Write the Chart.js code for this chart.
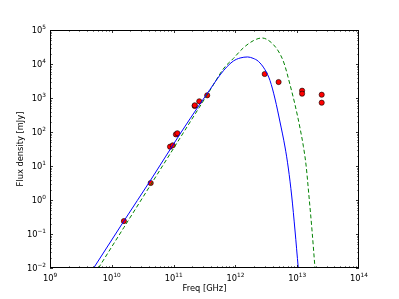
<!DOCTYPE html>
<html>
<head>
<meta charset="utf-8">
<script src="https://cdn.jsdelivr.net/npm/chart.js@4.4.1/dist/chart.umd.min.js"></script>
<style>
  html, body { margin: 0; padding: 0; background: #fff; }
</style>
</head>
<body>
<canvas id="sed" width="399" height="299"></canvas>
<script>
// measured photometry (Hz, mJy)
const obsFreq = [1.57e10, 4.26e10, 8.75e10, 9.67e10, 1.09e11, 1.15e11, 2.19e11, 2.2e11, 2.6e11, 3.5e11,
                 2.98e12, 5.0e12, 1.2e13, 1.2e13, 2.49e13, 2.49e13];
const obsFlux = [0.24, 3.16, 37, 40.6, 85, 92, 582, 610, 800, 1200,
                 5080, 2950, 1640, 1340, 1250, 728];

// solid blue model
const fitFreq = [5.09e9, 1.57e10, 4.26e10, 1.27e11, 2.67e11, 3.88e11, 5.64e11, 7.23e11, 9.25e11, 1.19e12,
                 1.58e12, 1.93e12, 2.35e12, 3.01e12, 3.63e12, 4.38e12, 5.27e12, 6.35e12, 7.18e12, 8.15e12,
                 9.2e12, 1.04e13];
const fitFlux = [0.01, 0.241, 3.87, 87.3, 667, 1780, 4750, 8160, 12200, 15000,
                 16100, 14700, 12000, 6790, 3270, 935, 197, 36.2, 8.73, 1.31,
                 0.131, 0.01];

// dashed green model
const altFreq = [6.09e9, 1.57e10, 4.26e10, 1.27e11, 3.88e11, 6.55e11, 9.25e11, 1.34e12, 1.95e12, 2.69e12,
                 3.63e12, 4.94e12, 6.11e12, 7.64e12, 9.2e12, 1.11e13, 1.26e13, 1.39e13, 1.55e13, 1.74e13,
                 1.94e13];
const altFlux = [0.01, 0.156, 2.8, 66.2, 1680, 7620, 14500, 29600, 48500, 58200,
                 45900, 24100, 10700, 2490, 644, 131, 37.5, 10.7, 1.31, 0.122,
                 0.01];

const xTickExp = [9, 10, 11, 12, 13, 14];
const yTickExp = [-2, -1, 0, 1, 2, 3, 4, 5];

const FONT = '"DejaVu Sans", sans-serif';

function pairs(xs, ys) {
  return xs.map((x, i) => ({ x: x, y: ys[i] }));
}

// matplotlib-like frame, inward ticks and 10^n labels
const axesDecor = {
  id: 'axesDecor',
  afterDraw(chart) {
    const ctx = chart.ctx;
    const a = chart.chartArea;
    const xs = chart.scales.x;
    const ys = chart.scales.y;
    ctx.save();
    ctx.strokeStyle = '#000';
    ctx.lineWidth = 1;
    ctx.strokeRect(a.left + 0.5, a.top + 0.5, a.right - a.left - 1, a.bottom - a.top - 1);

    ctx.lineWidth = 0.8;
    ctx.beginPath();
    for (let e = xTickExp[0]; e < xTickExp[xTickExp.length - 1]; e++) {
      for (let m = 1; m < 10; m++) {
        const px = Math.round(xs.getPixelForValue(m * Math.pow(10, e))) + 0.5;
        const len = m === 1 ? 3 : 1.6;
        ctx.moveTo(px, a.bottom); ctx.lineTo(px, a.bottom - len);
        ctx.moveTo(px, a.top); ctx.lineTo(px, a.top + len);
      }
    }
    for (let e = yTickExp[0]; e < yTickExp[yTickExp.length - 1]; e++) {
      for (let m = 1; m < 10; m++) {
        const py = Math.round(ys.getPixelForValue(m * Math.pow(10, e))) + 0.5;
        const len = m === 1 ? 3 : 1.6;
        ctx.moveTo(a.left, py); ctx.lineTo(a.left + len, py);
        ctx.moveTo(a.right, py); ctx.lineTo(a.right - len, py);
      }
    }
    ctx.stroke();

    ctx.fillStyle = '#000';
    ctx.textBaseline = 'alphabetic';
    xTickExp.forEach(e => {
      const px = xs.getPixelForValue(Math.pow(10, e));
      ctx.font = '8.3px ' + FONT;
      const w1 = ctx.measureText('10').width;
      ctx.font = '5.8px ' + FONT;
      const w2 = ctx.measureText(String(e)).width;
      const x0 = px - (w1 + w2) / 2;
      ctx.font = '8.3px ' + FONT;
      ctx.textAlign = 'left';
      ctx.fillText('10', x0, a.bottom + 13);
      ctx.font = '5.8px ' + FONT;
      ctx.fillText(String(e), x0 + w1, a.bottom + 9);
    });
    yTickExp.forEach(e => {
      const py = ys.getPixelForValue(Math.pow(10, e));
      const lab = e < 0 ? '\u2212' + Math.abs(e) : String(e);
      ctx.font = '5.8px ' + FONT;
      const w2 = ctx.measureText(lab).width;
      ctx.font = '8.3px ' + FONT;
      const w1 = ctx.measureText('10').width;
      const xr = a.left - 4;
      ctx.textAlign = 'left';
      ctx.fillText('10', xr - w1 - w2, py + 3);
      ctx.font = '5.8px ' + FONT;
      ctx.fillText(lab, xr - w2, py - 1);
    });

    ctx.font = '8.3px ' + FONT;
    ctx.textAlign = 'center';
    ctx.fillText('Freq [GHz]', (a.left + a.right) / 2, a.bottom + 23);
    ctx.translate(23, (a.top + a.bottom) / 2);
    ctx.rotate(-Math.PI / 2);
    ctx.fillText('Flux density [mJy]', 0, 0);
    ctx.restore();
  }
};

new Chart(document.getElementById('sed').getContext('2d'), {
  type: 'line',
  data: {
    datasets: [
      {
        label: 'model',
        data: pairs(fitFreq, fitFlux),
        borderColor: '#0000ff',
        borderWidth: 1,
        pointRadius: 0,
        cubicInterpolationMode: 'monotone',
        fill: false,
      },
      {
        label: 'model 2',
        data: pairs(altFreq, altFlux),
        borderColor: '#008000',
        borderWidth: 1,
        borderDash: [4, 2.5],
        pointRadius: 0,
        cubicInterpolationMode: 'monotone',
        fill: false,
      },
      {
        label: 'data',
        data: pairs(obsFreq, obsFlux),
        showLine: false,
        pointStyle: 'circle',
        pointRadius: 2.6,
        pointBackgroundColor: '#ff0000',
        pointBorderColor: '#000',
        pointBorderWidth: 0.6,
      },
    ],
  },
  options: {
    responsive: false,
    animation: false,
    layout: { padding: { left: 0, top: 30, right: 40, bottom: 0 } },
    plugins: { legend: { display: false }, tooltip: { enabled: false } },
    scales: {
      x: {
        type: 'logarithmic',
        min: 1e9,
        max: 1e14,
        ticks: { display: false },
        grid: { display: false },
        border: { display: false },
        afterFit: s => { s.height = 31; },
      },
      y: {
        type: 'logarithmic',
        min: 1e-2,
        max: 1e5,
        ticks: { display: false },
        grid: { display: false },
        border: { display: false },
        afterFit: s => { s.width = 50; },
      },
    },
  },
  plugins: [axesDecor],
});
</script>
</body>
</html>
